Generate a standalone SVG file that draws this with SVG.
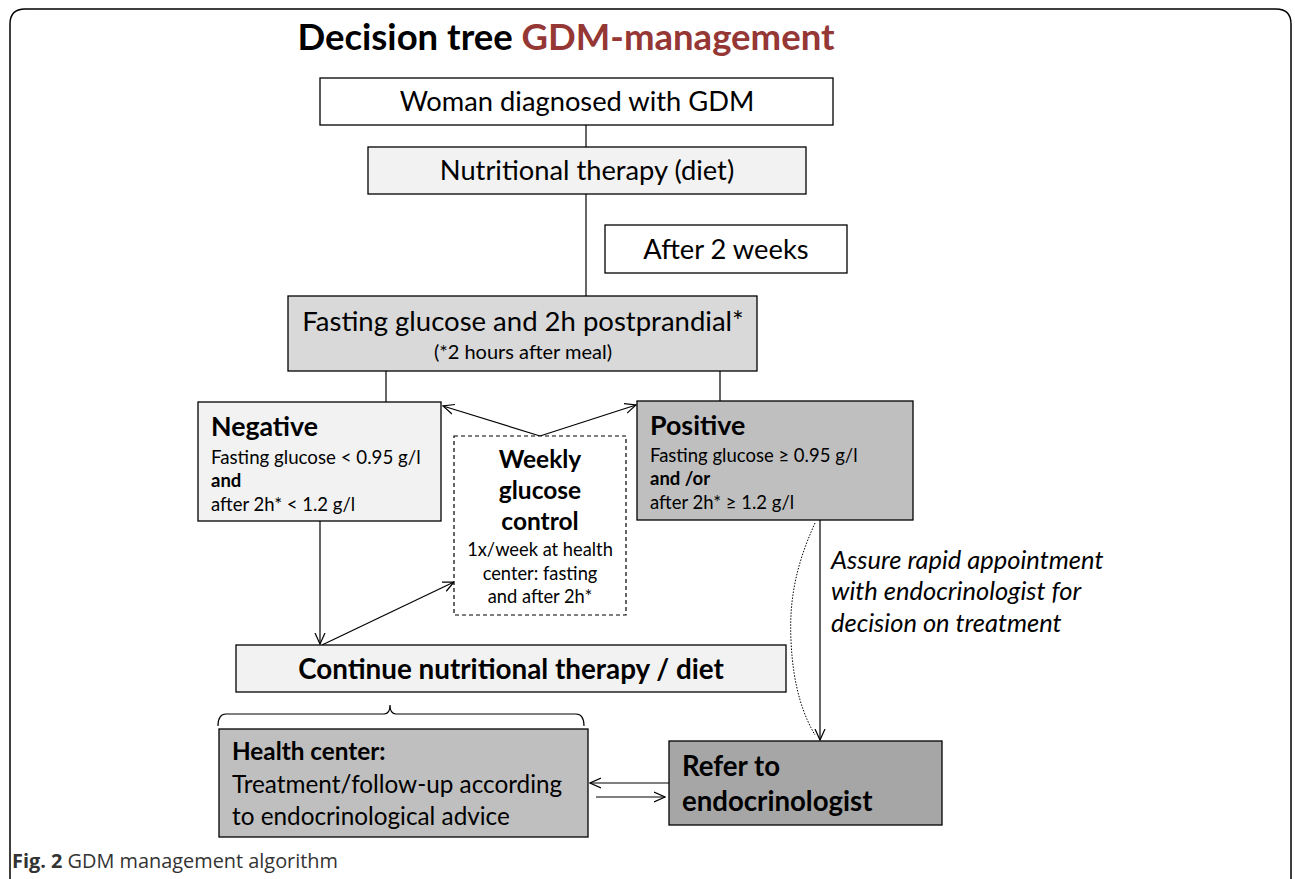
<svg xmlns="http://www.w3.org/2000/svg" width="1295" height="879" viewBox="0 0 1295 879">
<defs>
<marker id="ah" viewBox="0 0 12 12" refX="11" refY="6" markerWidth="12" markerHeight="12" markerUnits="userSpaceOnUse" orient="auto">
<path d="M0,1 L11,6 L0,11" fill="none" stroke="#000" stroke-width="1.2"/>
</marker>
</defs>
<style>
text{font-family:Lato,"Liberation Sans",sans-serif;fill:#000}
text.cap{font-family:"Open Sans","Liberation Sans",sans-serif;fill:#333}
.box{stroke:#000;stroke-width:1.3}
.b{font-weight:bold}
.c{text-anchor:middle}
.ln{stroke:#000;stroke-width:1.2;fill:none}
</style>
<rect width="1295" height="879" fill="#fff"/>
<path d="M10,885 L10,24 Q10,9 25,9 L1276,9 Q1291,9 1291,24 L1291,885" fill="none" stroke="#000" stroke-width="1.5"/>
<text x="566" y="50" class="c b" font-size="36.5">Decision tree <tspan fill="#953735">GDM-management</tspan></text>

<g id="connectors">
<line class="ln" x1="586" y1="125" x2="586" y2="147"/>
<line class="ln" x1="586" y1="194" x2="586" y2="296"/>
<line class="ln" x1="386" y1="371" x2="386" y2="402"/>
<line class="ln" x1="720" y1="371" x2="720" y2="401"/>
<line class="ln" x1="540" y1="436" x2="443" y2="406" marker-end="url(#ah)"/>
<line class="ln" x1="540" y1="436" x2="636" y2="405" marker-end="url(#ah)"/>
<line class="ln" x1="320" y1="521" x2="320" y2="644" marker-end="url(#ah)"/>
<line class="ln" x1="322" y1="645" x2="454" y2="582" marker-end="url(#ah)"/>
<line class="ln" x1="820" y1="520" x2="820" y2="740" marker-end="url(#ah)"/>
<path d="M815,523 C796,565 789,600 791,640 C793,690 805,718 815,735" fill="none" stroke="#000" stroke-width="1" stroke-dasharray="1.5,1.5"/>
<path class="ln" d="M218,726 Q218,714 226,714 L384,714 Q390,714 390,705 Q390,714 396,714 L576,714 Q584,714 584,726"/>
<line class="ln" x1="669" y1="783" x2="590" y2="783" marker-end="url(#ah)"/>
<line class="ln" x1="596" y1="797" x2="665" y2="797" marker-end="url(#ah)"/>
</g>

<g id="woman">
<rect class="box" x="320" y="78" width="513" height="47" fill="#fff"/>
<text x="577" y="111" class="c" font-size="27.3">Woman diagnosed with GDM</text>
</g>
<g id="nutrition">
<rect class="box" x="368" y="147" width="438" height="47" fill="#f2f2f2"/>
<text x="587" y="180" class="c" font-size="27.3">Nutritional therapy (diet)</text>
</g>
<g id="after2weeks">
<rect class="box" x="605" y="225" width="242" height="48" fill="#fff"/>
<text x="726" y="259" class="c" font-size="27.3">After 2 weeks</text>
</g>
<g id="fasting">
<rect class="box" x="288" y="296" width="469" height="75" fill="#d9d9d9"/>
<text x="523" y="331" class="c" font-size="27.5">Fasting glucose and 2h postprandial*</text>
<text x="523" y="359" class="c" font-size="20">(*2 hours after meal)</text>
</g>
<g id="negative">
<rect class="box" x="198" y="402" width="243" height="119" fill="#f2f2f2"/>
<text x="211" y="436" class="b" font-size="26.7">Negative</text>
<text x="211" y="464" font-size="18.7">Fasting glucose &lt; 0.95 g/l</text>
<text x="211" y="487" class="b" font-size="18.5">and</text>
<text x="211" y="511" font-size="18.5">after 2h* &lt; 1.2 g/l</text>
</g>
<g id="positive">
<rect class="box" x="637" y="401" width="276" height="119" fill="#bfbfbf"/>
<text x="650" y="435" class="b" font-size="26.8">Positive</text>
<text x="650" y="462" font-size="18.5">Fasting glucose ≥  0.95 g/l</text>
<text x="650" y="485" class="b" font-size="18.5">and /or</text>
<text x="650" y="509" font-size="18.5">after 2h* ≥ 1.2 g/l</text>
</g>
<g id="weekly">
<rect x="454" y="436" width="172" height="179" fill="#fff" stroke="#000" stroke-width="1.2" stroke-dasharray="4,3"/>
<text x="540" y="468" class="c b" font-size="24.5">Weekly</text>
<text x="540" y="499" class="c b" font-size="24.5">glucose</text>
<text x="540" y="530" class="c b" font-size="24.5">control</text>
<text x="540" y="556" class="c" font-size="18.3">1x/week at health</text>
<text x="540" y="580" class="c" font-size="18.3">center: fasting</text>
<text x="540" y="603" class="c" font-size="18.3">and after 2h*</text>
</g>
<g id="continue">
<rect class="box" x="236" y="645" width="550" height="47" fill="#f2f2f2"/>
<text x="511" y="679" class="c b" font-size="27.8">Continue nutritional therapy / diet</text>
</g>
<g id="healthcenter">
<rect class="box" x="219" y="729" width="369" height="108" fill="#bfbfbf"/>
<text x="232" y="760" class="b" font-size="24.3">Health center:</text>
<text x="232" y="793" font-size="24.3">Treatment/follow-up according</text>
<text x="232" y="825" font-size="24.3">to endocrinological advice</text>
</g>
<g id="refer">
<rect class="box" x="669" y="741" width="273" height="84" fill="#a6a6a6"/>
<text x="682" y="776" class="b" font-size="27.6">Refer to</text>
<text x="682" y="811" class="b" font-size="27.6">endocrinologist</text>
</g>
<g id="note">
<text x="831" y="569" font-style="italic" font-size="25.5">Assure rapid appointment</text>
<text x="831" y="600" font-style="italic" font-size="25.5">with endocrinologist for</text>
<text x="831" y="632" font-style="italic" font-size="25.5">decision on treatment</text>
</g>
<text class="cap" x="12" y="868" font-size="19.9"><tspan font-weight="bold">Fig. 2</tspan> GDM management algorithm</text>
</svg>
